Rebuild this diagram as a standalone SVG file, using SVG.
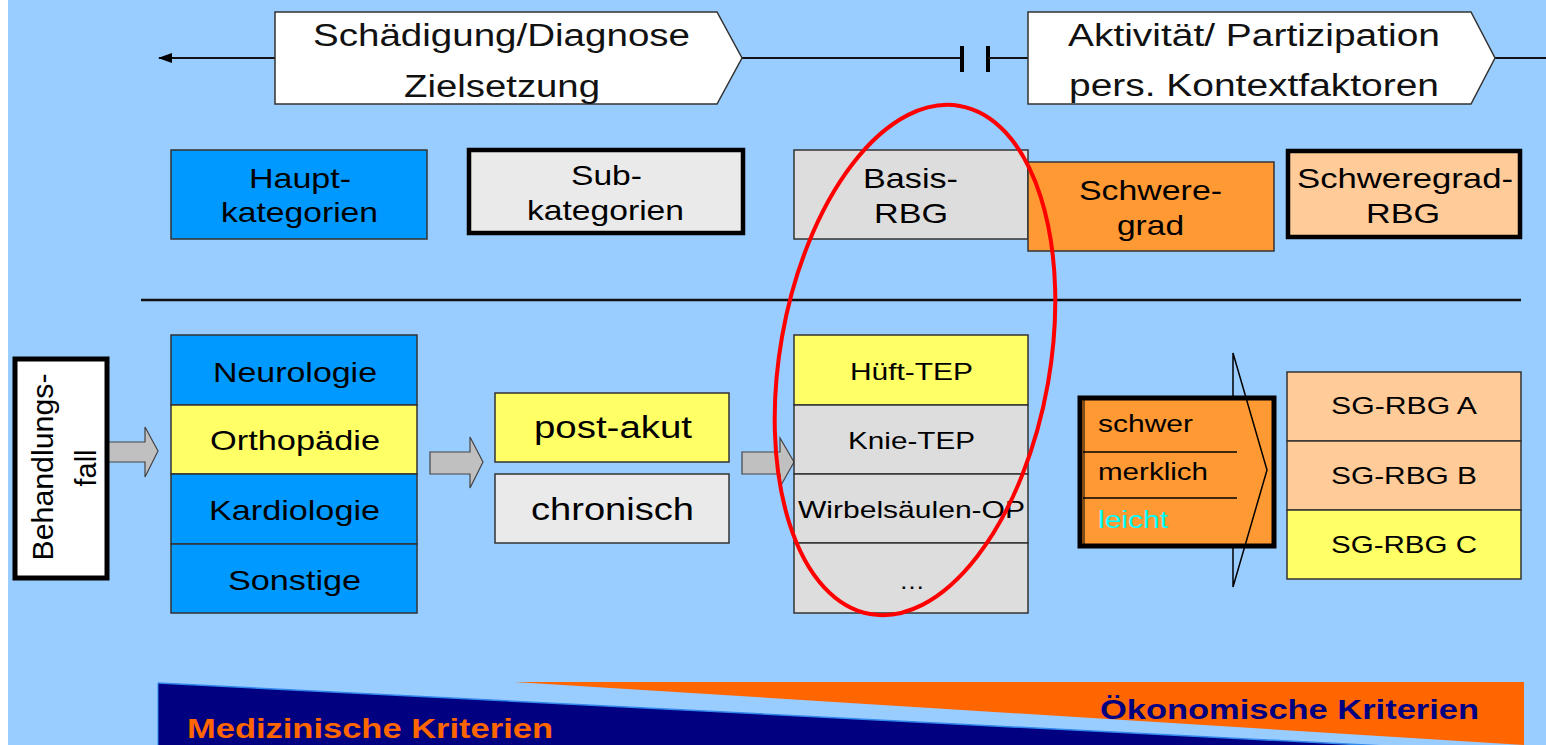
<svg xmlns="http://www.w3.org/2000/svg" width="1546" height="745" viewBox="0 0 1546 745">
<defs>
<style>
text{font-family:"Liberation Sans",Arial,sans-serif;fill:#000}
.t31{font-size:31px;fill:#111}
.t28{font-size:28px}
.t24{font-size:24px}
.t23{font-size:23px}
.bx{stroke:#333;stroke-width:1.5}
.thick{stroke:#000;stroke-width:4.5}
.blue{fill:#0099FF}
.yel{fill:#FFFF66}
.lg{fill:#EAEAEA}
.g{fill:#DDDDDD}
.org{fill:#FF9933}
.pch{fill:#FFCC99}
.garrow{fill:#C0C0C0;stroke:#444;stroke-width:1.2}
.ln{stroke:#111;stroke-width:2;fill:none}
.bold{font-size:27px;font-weight:bold}
</style>
<marker id="ah" viewBox="0 0 14 10" refX="13" refY="5" markerWidth="14" markerHeight="10" markerUnits="userSpaceOnUse" orient="auto">
<path d="M0,0 L14,5 L0,10 Z" fill="#000"/>
</marker>
</defs>
<rect x="0" y="0" width="1546" height="745" fill="#fff"/>
<rect x="8" y="0" width="1538" height="745" fill="#99CCFF"/>

<g id="connectors">
<line class="ln" x1="275" y1="58" x2="159" y2="58" marker-end="url(#ah)"/>
<line class="ln" x1="742" y1="58" x2="962" y2="58"/>
<line x1="962" y1="46" x2="962" y2="72" stroke="#000" stroke-width="4"/>
<line x1="988" y1="46" x2="988" y2="72" stroke="#000" stroke-width="4"/>
<line class="ln" x1="988" y1="58" x2="1028" y2="58"/>
<line class="ln" x1="1495" y1="58" x2="1546" y2="58"/>
<line x1="141" y1="300" x2="1521" y2="300" stroke="#111" stroke-width="2.5"/>
<path class="garrow" d="M107,442 H145 V427 L158,451 L145,477 V462 H107 Z"/>
<path class="garrow" d="M430,452 H470 V437 L483,462 L470,488 V474 H430 Z"/>
<path class="garrow" d="M742,452 H780 V438 L794,462 L780,487 V474 H742 Z"/>
</g>

<g id="pent-schaedigung">
<path d="M275,12 H717 L742,58 L717,104 H275 Z" fill="#fff" stroke="#333" stroke-width="1.5"/>
<text class="t31" x="313" y="46" textLength="377" lengthAdjust="spacingAndGlyphs">Schädigung/Diagnose</text>
<text class="t31" x="404" y="97" textLength="196" lengthAdjust="spacingAndGlyphs">Zielsetzung</text>
</g>

<g id="pent-aktivitaet">
<path d="M1028,12 H1471 L1495,58 L1471,104 H1028 Z" fill="#fff" stroke="#333" stroke-width="1.5"/>
<text class="t31" x="1068" y="46" textLength="372" lengthAdjust="spacingAndGlyphs">Aktivität/ Partizipation</text>
<text class="t31" x="1069" y="96" textLength="370" lengthAdjust="spacingAndGlyphs">pers. Kontextfaktoren</text>
</g>

<g id="hdr-haupt">
<rect class="bx blue" x="171" y="150" width="256" height="89"/>
<text class="t28" x="249" y="188" textLength="102" lengthAdjust="spacingAndGlyphs">Haupt-</text>
<text class="t28" x="221" y="222" textLength="157" lengthAdjust="spacingAndGlyphs">kategorien</text>
</g>

<g id="hdr-sub">
<rect class="thick lg" x="469" y="150" width="274" height="83"/>
<text class="t28" x="571" y="185" textLength="71" lengthAdjust="spacingAndGlyphs">Sub-</text>
<text class="t28" x="527" y="220" textLength="157" lengthAdjust="spacingAndGlyphs">kategorien</text>
</g>

<g id="hdr-basis">
<rect class="bx g" x="794" y="150" width="234" height="89"/>
<text class="t28" x="863" y="188" textLength="95" lengthAdjust="spacingAndGlyphs">Basis-</text>
<text class="t28" x="874" y="223" textLength="74" lengthAdjust="spacingAndGlyphs">RBG</text>
</g>

<g id="hdr-schweregrad">
<rect class="bx org" x="1028" y="162" width="246" height="89"/>
<text class="t28" x="1079" y="200" textLength="143" lengthAdjust="spacingAndGlyphs">Schwere-</text>
<text class="t28" x="1117" y="235" textLength="67" lengthAdjust="spacingAndGlyphs">grad</text>
</g>

<g id="hdr-sgrbg">
<rect class="thick pch" x="1288" y="151" width="232" height="86"/>
<text class="t28" x="1297" y="188" textLength="216" lengthAdjust="spacingAndGlyphs">Schweregrad-</text>
<text class="t28" x="1366" y="223" textLength="74" lengthAdjust="spacingAndGlyphs">RBG</text>
</g>

<g id="behandlungsfall">
<rect x="15" y="359" width="92" height="219" fill="#fff" stroke="#000" stroke-width="5"/>
<text font-size="29" transform="translate(53,467) rotate(-90)" text-anchor="middle" textLength="187" lengthAdjust="spacingAndGlyphs">Behandlungs-</text>
<text font-size="29" transform="translate(96,468) rotate(-90)" text-anchor="middle" textLength="37" lengthAdjust="spacingAndGlyphs">fall</text>
</g>

<g id="kategorien">
<rect class="bx blue" x="171" y="335" width="246" height="70"/>
<rect class="bx yel" x="171" y="405" width="246" height="69"/>
<rect class="bx blue" x="171" y="474" width="246" height="70"/>
<rect class="bx blue" x="171" y="544" width="246" height="69"/>
<text class="t28" x="213" y="382" textLength="164" lengthAdjust="spacingAndGlyphs">Neurologie</text>
<text class="t28" x="210" y="450" textLength="170" lengthAdjust="spacingAndGlyphs">Orthopädie</text>
<text class="t28" x="209" y="520" textLength="171" lengthAdjust="spacingAndGlyphs">Kardiologie</text>
<text class="t28" x="228" y="590" textLength="133" lengthAdjust="spacingAndGlyphs">Sonstige</text>
</g>

<g id="subkategorien">
<rect class="bx yel" x="495" y="393" width="234" height="69"/>
<rect class="bx lg" x="495" y="474" width="234" height="69"/>
<text font-size="31" x="534" y="438" textLength="158" lengthAdjust="spacingAndGlyphs">post-akut</text>
<text font-size="31" x="531" y="520" textLength="163" lengthAdjust="spacingAndGlyphs">chronisch</text>
</g>

<g id="basis-rbg">
<rect class="bx yel" x="794" y="335" width="234" height="70"/>
<rect class="bx g" x="794" y="405" width="234" height="69"/>
<rect class="bx g" x="794" y="474" width="234" height="69"/>
<rect class="bx g" x="794" y="543" width="234" height="70"/>
<text class="t24" x="850" y="380" textLength="123" lengthAdjust="spacingAndGlyphs">Hüft-TEP</text>
<text class="t24" x="848" y="449" textLength="127" lengthAdjust="spacingAndGlyphs">Knie-TEP</text>
<text class="t24" x="798" y="518" textLength="227" lengthAdjust="spacingAndGlyphs">Wirbelsäulen-OP</text>
<text class="t24" x="899" y="589" textLength="26" lengthAdjust="spacingAndGlyphs">…</text>
</g>

<g id="highlight-ellipse">
<ellipse cx="915" cy="360" rx="135" ry="258" transform="rotate(10 915 360)" fill="none" stroke="#FF0000" stroke-width="4"/>
</g>

<g id="schweregrad">
<rect x="1080" y="398" width="194" height="148" fill="#FF9933" stroke="#000" stroke-width="5"/>
<line x1="1084" y1="400" x2="1084" y2="544" stroke="#000" stroke-width="1"/>
<line x1="1083" y1="452" x2="1237" y2="452" stroke="#000" stroke-width="1.5"/>
<line x1="1083" y1="498" x2="1237" y2="498" stroke="#000" stroke-width="1.5"/>
<polyline points="1233,396 1233,353 1267,470 1233,587 1233,548" fill="none" stroke="#000" stroke-width="1.5"/>
<text class="t23" x="1098" y="432" textLength="95" lengthAdjust="spacingAndGlyphs">schwer</text>
<text class="t23" x="1098" y="480" textLength="110" lengthAdjust="spacingAndGlyphs">merklich</text>
<text class="t23" x="1098" y="528" textLength="70" lengthAdjust="spacingAndGlyphs" style="fill:#00FFFF">leicht</text>
</g>

<g id="sg-rbg">
<rect class="bx pch" x="1287" y="372" width="234" height="69"/>
<rect class="bx pch" x="1287" y="441" width="234" height="69"/>
<rect class="bx yel" x="1287" y="510" width="234" height="69"/>
<text class="t24" x="1331" y="414" textLength="146" lengthAdjust="spacingAndGlyphs">SG-RBG A</text>
<text class="t24" x="1331" y="484" textLength="146" lengthAdjust="spacingAndGlyphs">SG-RBG B</text>
<text class="t24" x="1331" y="553" textLength="146" lengthAdjust="spacingAndGlyphs">SG-RBG C</text>
</g>

<g id="kriterien">
<polygon points="514,682 1524,682 1524,745" fill="#FF6600"/>
<polygon points="158,683 1521,753 158,753" fill="#000080"/>
<line x1="158" y1="683" x2="1521" y2="753" stroke="#3388EE" stroke-width="1.5"/>
<line x1="158" y1="683" x2="158" y2="745" stroke="#3388EE" stroke-width="1"/>
<text class="bold" x="187" y="738" textLength="366" lengthAdjust="spacingAndGlyphs" style="fill:#FF6600">Medizinische Kriterien</text>
<text class="bold" x="1100" y="719" textLength="379" lengthAdjust="spacingAndGlyphs" style="fill:#000080">Ökonomische Kriterien</text>
</g>
</svg>
